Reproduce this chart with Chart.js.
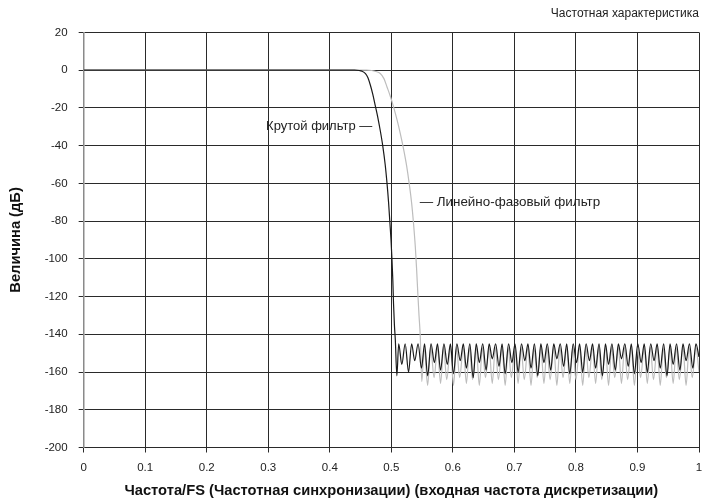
<!DOCTYPE html>
<html>
<head>
<meta charset="utf-8">
<script src="https://cdn.jsdelivr.net/npm/chart.js@4/dist/chart.umd.min.js"></script>
<style>
  body { margin: 0; background: #fff; }
</style>
</head>
<body>
<canvas id="responseChart" width="704" height="498"></canvas>
<script>
"use strict";

// steep filter (black)
const steepFreq = [0, 0.1, 0.2, 0.3, 0.4, 0.44, 0.448, 0.452, 0.458, 0.462, 0.466, 0.47, 0.474, 0.478, 0.482, 0.486, 0.49, 0.493, 0.4955, 0.4975, 0.4995, 0.501, 0.5025, 0.5036, 0.505, 0.5065,
  0.509, 0.512, 0.517, 0.5225, 0.528, 0.533, 0.538, 0.5435, 0.549, 0.554, 0.559, 0.5645, 0.57, 0.575, 0.58, 0.5855, 0.591, 0.596,
  0.601, 0.6065, 0.612, 0.617, 0.622, 0.6275, 0.633, 0.638, 0.643, 0.6485, 0.654, 0.659, 0.664, 0.6695, 0.675, 0.68, 0.685, 0.6905, 0.696,
  0.701, 0.706, 0.7115, 0.717, 0.722, 0.727, 0.7325, 0.738, 0.743, 0.748, 0.7535, 0.759, 0.764, 0.769, 0.7745, 0.78, 0.785, 0.79, 0.7955,
  0.801, 0.806, 0.811, 0.8165, 0.822, 0.827, 0.832, 0.8375, 0.843, 0.848, 0.853, 0.8585, 0.864, 0.869, 0.874, 0.8795, 0.885, 0.89, 0.895, 0.9005,
  0.906, 0.911, 0.916, 0.9215, 0.927, 0.932, 0.937, 0.9425, 0.948, 0.953, 0.958, 0.9635, 0.969, 0.974, 0.979, 0.9845, 0.99, 0.995, 1];
const steepDb = [0, 0, 0, 0, 0, 0, -0.2, -0.5, -1.8, -4, -8, -13, -19, -25, -32, -40, -50, -60, -70, -80, -90, -100, -112, -124, -135, -143,
  -162, -145, -156, -145, -160, -145, -154, -145, -158, -145, -162, -145, -155, -145, -159, -145, -156, -145,
  -161, -145, -154, -145, -158, -145, -163, -145, -155, -145, -159, -145, -153, -145, -157, -145, -161, -145, -155,
  -145, -160, -145, -154, -145, -158, -145, -162, -145, -155, -145, -159, -145, -153, -145, -157, -145, -161, -145,
  -155, -145, -160, -145, -154, -145, -158, -145, -162, -145, -156, -145, -159, -145, -153, -145, -157, -145, -161, -145,
  -155, -145, -160, -145, -154, -145, -158, -145, -162, -145, -156, -145, -159, -145, -154, -145, -158, -145, -152];

// linear-phase filter (light grey)
const linearFreq = [0, 0.1, 0.2, 0.3, 0.4, 0.46, 0.468, 0.475, 0.482, 0.488, 0.493, 0.4985, 0.5036, 0.509, 0.5146, 0.52, 0.525, 0.529, 0.533, 0.536, 0.539, 0.541, 0.543, 0.545, 0.547,
  0.5495, 0.5535, 0.559, 0.564, 0.5695, 0.575, 0.58, 0.585, 0.59, 0.596, 0.601, 0.606, 0.611, 0.617, 0.622, 0.627, 0.632, 0.638,
  0.643, 0.648, 0.653, 0.659, 0.664, 0.669, 0.674, 0.68, 0.685, 0.69, 0.695, 0.701, 0.706, 0.711, 0.716, 0.722, 0.727, 0.732, 0.737, 0.743,
  0.748, 0.753, 0.758, 0.764, 0.769, 0.774, 0.779, 0.785, 0.79, 0.795, 0.8, 0.806, 0.811, 0.816, 0.821, 0.827, 0.832, 0.837, 0.842, 0.848,
  0.853, 0.858, 0.863, 0.869, 0.874, 0.879, 0.884, 0.89, 0.895, 0.9, 0.905, 0.911, 0.916, 0.921, 0.926, 0.932, 0.937, 0.942, 0.947, 0.953,
  0.958, 0.963, 0.968, 0.974, 0.979, 0.984, 0.989, 0.995, 1];
const linearDb = [0, 0, 0, 0, 0, 0, -0.2, -0.7, -1.8, -4.5, -8.9, -14, -19.5, -26, -33.6, -42, -51, -60, -70.5, -81, -93.7, -105, -118, -130, -141,
  -165, -147, -167, -147, -163, -147, -166, -147, -164, -147, -167, -147, -163, -147, -166, -147, -164, -147,
  -167, -147, -163, -147, -166, -147, -164, -147, -167, -147, -163, -147, -166, -147, -164, -147, -167, -147, -163, -147,
  -166, -147, -164, -147, -167, -147, -163, -147, -166, -147, -164, -147, -167, -147, -163, -147, -166, -147, -164, -147,
  -167, -147, -163, -147, -166, -147, -164, -147, -167, -147, -163, -147, -166, -147, -164, -147, -167, -147, -163, -147,
  -166, -147, -164, -147, -167, -147, -163, -147, -160];

const xTicks = [0, 0.1, 0.2, 0.3, 0.4, 0.5, 0.6, 0.7, 0.8, 0.9, 1];
const yTicks = [20, 0, -20, -40, -60, -80, -100, -120, -140, -160, -180, -200];

const labelFont = "'Liberation Sans', Arial, sans-serif";

function toPoints(freqs, values) {
  return freqs.map((f, i) => ({ x: f, y: values[i] }));
}

// text next to the curves, placed in data coordinates
const curveLabels = {
  id: "curveLabels",
  afterDatasetsDraw(chart) {
    const ctx = chart.ctx;
    const xs = chart.scales.x;
    const ys = chart.scales.y;
    ctx.save();
    ctx.font = "13px " + labelFont;
    ctx.fillStyle = "#222";
    ctx.textBaseline = "middle";
    ctx.textAlign = "right";
    ctx.fillText("Крутой фильтр —", xs.getPixelForValue(0.469), ys.getPixelForValue(-30));
    ctx.textAlign = "left";
    ctx.font = "13.4px " + labelFont;
    ctx.fillText("— Линейно-фазовый фильтр", xs.getPixelForValue(0.546), ys.getPixelForValue(-70));
    ctx.restore();
  }
};

new Chart(document.getElementById("responseChart"), {
  type: "line",
  data: {
    datasets: [
      {
        label: "Крутой фильтр",
        data: toPoints(steepFreq, steepDb),
        borderColor: "#1a1a1a",
        borderWidth: 1.2,
        pointRadius: 0,
        cubicInterpolationMode: "monotone",
        fill: false
      },
      {
        label: "Линейно-фазовый фильтр",
        data: toPoints(linearFreq, linearDb),
        borderColor: "#bdbdbd",
        borderWidth: 1.2,
        pointRadius: 0,
        cubicInterpolationMode: "monotone",
        fill: false
      }
    ]
  },
  options: {
    responsive: false,
    animation: false,
    layout: {
      padding: { top: 6, left: 6, right: 0, bottom: 0 }
    },
    scales: {
      x: {
        type: "linear",
        min: 0,
        max: 1,
        afterBuildTicks: (axis) => { axis.ticks = xTicks.map(v => ({ value: v })); },
        // keep only a small margin for the last "1" label
        afterFit: (axis) => { axis.paddingRight = 5; },
        ticks: {
          padding: 8,
          color: "#222",
          font: { family: labelFont, size: 11.5 },
          callback: (v) => String(Math.round(v * 10) / 10)
        },
        grid: { color: "#2a2a2a", lineWidth: 1, tickLength: 5 },
        border: { color: "#2a2a2a", width: 1 },
        title: {
          display: true,
          text: "Частота/FS (Частотная синхронизации) (входная частота дискретизации)",
          color: "#111",
          font: { family: labelFont, size: 14.7, weight: "bold", lineHeight: 1 },
          padding: { top: 1, bottom: 0 }
        }
      },
      y: {
        min: -200,
        max: 20,
        afterBuildTicks: (axis) => { axis.ticks = yTicks.map(v => ({ value: v })); },
        ticks: {
          padding: 11,
          color: "#222",
          font: { family: labelFont, size: 11.5 }
        },
        grid: { color: "#2a2a2a", lineWidth: 1, tickLength: 5 },
        border: { color: "#8a8a8a", width: 1.5 },
        title: {
          display: true,
          text: "Величина (дБ)",
          color: "#111",
          font: { family: labelFont, size: 14.7, weight: "bold" },
          padding: { top: 1, bottom: 9 }
        }
      }
    },
    plugins: {
      legend: { display: false },
      tooltip: { enabled: false },
      title: {
        display: true,
        fullSize: false,
        text: "Частотная характеристика",
        align: "end",
        color: "#222",
        font: { family: labelFont, size: 12, weight: "normal" },
        padding: { top: 0, bottom: 12 }
      }
    }
  },
  plugins: [curveLabels]
});
</script>
</body>
</html>
